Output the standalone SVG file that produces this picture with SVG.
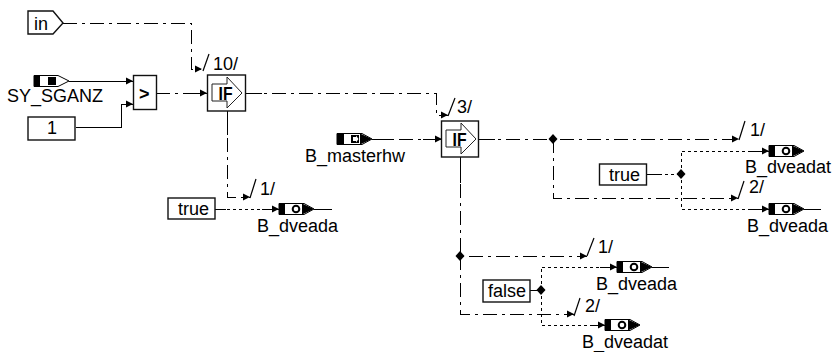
<svg xmlns="http://www.w3.org/2000/svg" width="834" height="352" viewBox="0 0 834 352">
<style>
text{font-family:"Liberation Sans",Arial,sans-serif;font-size:18px;fill:#000}
.box{fill:#fff;stroke:#111;stroke-width:1.4}
.l{fill:none;stroke:#000;stroke-width:1;shape-rendering:crispEdges}
.dd{stroke-dasharray:14 5 3 5}
.d{stroke-dasharray:3 3}
.s{fill:none;stroke:#000;stroke-width:1.2}
</style>
<defs>
<marker id="a" markerUnits="userSpaceOnUse" markerWidth="8" markerHeight="8" refX="7" refY="4" orient="auto"><path d="M0,0.500L7,4L0,7.500z" fill="#000"/></marker>
<g id="ifsym"><path d="M5,9H20V2L35,18L20,33V26H5z" fill="#fff" stroke="#222" stroke-width="1"/><text x="11.500" y="25" textLength="14" lengthAdjust="spacingAndGlyphs" style="font-size:18px;font-weight:bold">IF</text></g>
<g id="out"><path d="M0,-5.500H25L35,0L25,5.500H0z" fill="#fff" stroke="#000"/><rect x="0" y="-5.500" width="6" height="11" fill="#000"/><path d="M23,-5.500L35,0L23,5.500z" fill="#000"/><circle cx="17" cy="0" r="3.300" fill="#fff" stroke="#000" stroke-width="2"/></g>
<path id="dia" d="M0,-5L4.500,0L0,5L-4.500,0z" fill="#000"/>
</defs>
<g id="connectors">
<path class="l dd" d="M63,23H191V69H202" marker-end="url(#a)"/>
<path class="s" d="M203,71L209,54"/>
<path class="l" d="M69,81H133" marker-end="url(#a)"/>
<path class="l" d="M76,127H121V104H133" marker-end="url(#a)"/>
<path class="l dd" d="M156,93H207" marker-end="url(#a)"/>
<path class="l" d="M156,93H170M190,93H207M245,93H262"/>
<path class="l dd" d="M245,93H436V115H448" marker-end="url(#a)"/>
<path class="s" d="M448,116L455,98"/>
<path class="l dd" d="M227,111V197H250" marker-end="url(#a)"/>
<path class="l" d="M227,111V135"/>
<path class="s" d="M250,198L256,179"/>
<path class="l d" d="M215,209H279" marker-end="url(#a)"/>
<path class="l" d="M215,209H226M262,209H279M314,209H332"/>
<path class="l dd" d="M372,139H442" marker-end="url(#a)"/>
<path class="l" d="M372,139H393M423,139H442"/>
<path class="l dd" d="M479,139H739" marker-end="url(#a)"/>
<path class="l" d="M479,139H495"/>
<path class="s" d="M739,140L745,121"/>
<path class="l dd" d="M553,139V198H738" marker-end="url(#a)"/>
<path class="s" d="M738,199L744,181"/>
<path class="l d" d="M647,174H681"/>
<path class="l" d="M647,174H660"/>
<path class="l d" d="M681,174V151H769" marker-end="url(#a)"/>
<path class="l d" d="M681,174V209H769" marker-end="url(#a)"/>
<path class="l" d="M751,151H769M751,209H769M804,209H821"/>
<path class="l dd" d="M460,157V256H587" marker-end="url(#a)"/>
<path class="l" d="M460,157V183"/>
<path class="s" d="M587,256L594,238"/>
<path class="l dd" d="M460,256V314H574" marker-end="url(#a)"/>
<path class="s" d="M574,316L580,298"/>
<path class="l" d="M530,290H541"/>
<path class="l d" d="M541,290V267H617" marker-end="url(#a)"/>
<path class="l d" d="M541,290V325H605" marker-end="url(#a)"/>
<path class="l" d="M600,267H617M590,325H605M652,267H669"/>
<use href="#dia" x="553" y="139"/>
<use href="#dia" x="681" y="174"/>
<use href="#dia" x="460" y="256"/>
<use href="#dia" x="541" y="290"/>
<text x="213" y="70">10/</text>
<text x="457" y="113">3/</text>
<text x="260" y="195">1/</text>
<text x="750" y="136">1/</text>
<text x="749" y="193">2/</text>
<text x="598" y="253">1/</text>
<text x="585" y="312">2/</text>
</g>
<g id="in"><path class="box" d="M28,11H53L63,23L53,34H28z"/><text x="34" y="30">in</text></g>
<g id="SY_SGANZ"><path d="M34,75.500H58L69,81L58,86.500H34z" fill="#fff" stroke="#000"/><rect x="34" y="75.500" width="6" height="11" fill="#000"/><rect x="48" y="77" width="8" height="8" fill="#000"/><text x="7" y="102">SY_SGANZ</text></g>
<g id="const1"><rect class="box" x="28" y="117" width="47" height="23"/><text x="47" y="134">1</text></g>
<g id="gt"><rect class="box" x="133.500" y="75.500" width="23" height="34"/><text x="139" y="100" style="font-weight:bold">&gt;</text></g>
<g id="if1"><rect class="box" x="207.500" y="75" width="38" height="36"/><use href="#ifsym" x="207" y="75"/></g>
<g id="if2"><rect class="box" x="441.500" y="121" width="37" height="36"/><use href="#ifsym" x="441" y="121"/></g>
<g id="true1"><rect class="box" x="168" y="198" width="47" height="21"/><text x="178" y="215">true</text></g>
<g id="B_dveada1"><use href="#out" x="279" y="209"/><text x="257" y="232">B_dveada</text></g>
<g id="B_masterhw"><path d="M337,133.500H362L372,139L362,144.500H337z" fill="#fff" stroke="#000"/><rect x="337" y="133.500" width="7" height="11" fill="#000"/><path d="M360,133.500L372,139L360,144.500z" fill="#000"/><rect x="351" y="135" width="8" height="8" fill="#000"/><path d="M353,137H356V135.500L358.500,139L356,142.500V141H353z" fill="#fff"/><text x="305" y="162">B_masterhw</text></g>
<g id="true2"><rect class="box" x="599.500" y="164" width="47" height="21"/><text x="609" y="181">true</text></g>
<g id="B_dveadat1"><use href="#out" x="769" y="151"/><text x="745" y="173">B_dveadat</text></g>
<g id="B_dveada2"><use href="#out" x="769" y="209"/><text x="747" y="232">B_dveada</text></g>
<g id="false1"><rect class="box" x="483" y="280" width="47" height="22"/><text x="488" y="297">false</text></g>
<g id="B_dveada3"><use href="#out" x="617" y="267"/><text x="596" y="290">B_dveada</text></g>
<g id="B_dveadat2"><use href="#out" x="605" y="325"/><text x="582" y="348">B_dveadat</text></g>
</svg>
